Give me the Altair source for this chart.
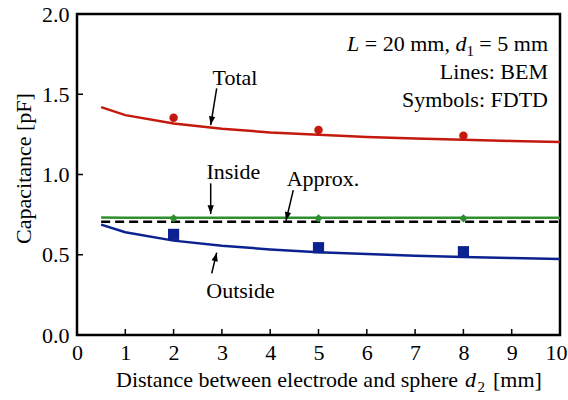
import math
import altair as alt
import pandas as pd

# ---------------- data ----------------
d_bem = [0.5, 1, 2, 3, 4, 5, 6, 7, 8, 9, 10]
total_bem = [1.420, 1.370, 1.318, 1.285, 1.262, 1.247, 1.234, 1.225, 1.217, 1.209, 1.203]
inside_bem = [0.732, 0.731, 0.730, 0.730, 0.730, 0.730, 0.730, 0.730, 0.730, 0.730, 0.730]
outside_bem = [0.688, 0.640, 0.588, 0.556, 0.533, 0.516, 0.504, 0.494, 0.486, 0.479, 0.473]

approx_x = [0.5, 10]
approx_y = [0.705, 0.705]

d_fdtd = [2, 5, 8]
total_fdtd = [1.354, 1.277, 1.242]
inside_fdtd = [0.727, 0.727, 0.727]
outside_fdtd = [0.627, 0.544, 0.519]

x_ticks = [0, 1, 2, 3, 4, 5, 6, 7, 8, 9, 10]
y_ticks = [0.0, 0.5, 1.0, 1.5, 2.0]

label_text = ["Total", "Inside", "Approx.", "Outside"]
label_x = [3.27, 3.236, 5.093, 3.385]
label_y = [1.558, 0.970, 0.928, 0.229]

arrow_x = [2.892, 2.768, 4.478, 2.789]
arrow_y = [1.537, 0.945, 0.903, 0.384]
arrow_x2 = [2.768, 2.768, 4.327, 2.892]
arrow_y2 = [1.308, 0.754, 0.712, 0.513]

# ---------------- style ----------------
W, H = 483, 321
FONT = "Liberation Serif"
FS = 22
RED = "#c41a0e"
GREEN = "#2f8f2f"
BLUE = "#0c2290"

xs = alt.Scale(domain=[0, 10], nice=False, zero=False)
ys = alt.Scale(domain=[0, 2], nice=False, zero=False)

bem = pd.DataFrame({"d": d_bem, "total": total_bem, "inside": inside_bem, "outside": outside_bem})
fdtd = pd.DataFrame({"d": d_fdtd, "total": total_fdtd, "inside": inside_fdtd, "outside": outside_fdtd})
approx = pd.DataFrame({"d": approx_x, "c": approx_y})

x_axis = alt.Axis(values=x_ticks, title=None, ticks=False, domain=False, grid=False,
                  labelFont=FONT, labelFontSize=FS, labelColor="black", labelPadding=7,
                  labelAngle=0, labelFlush=False, labelOverlap=False,
                  labelOffset={"condition": {"test": "datum.value == 10", "value": -4}, "value": 0})
y_axis = alt.Axis(values=y_ticks, format=".1f", title=None, ticks=False, domain=False, grid=False,
                  labelFont=FONT, labelFontSize=FS, labelColor="black", labelPadding=8,
                  labelFlush=False, labelOverlap=False)


def X(field):
    return alt.X(field, scale=xs, axis=x_axis)


def Y(field):
    return alt.Y(field, scale=ys, axis=y_axis)


def line(col, color, dash=None):
    kw = dict(color=color, strokeWidth=2.5)
    if dash:
        kw["strokeDash"] = dash
    return alt.Chart(bem).mark_line(**kw).encode(x=X("d:Q"), y=Y(f"{col}:Q"))


total_line = line("total", RED)
inside_line = line("inside", GREEN)
outside_line = line("outside", BLUE)
approx_line = alt.Chart(approx).mark_line(color="black", strokeWidth=2.5, strokeDash=[9, 5]).encode(
    x=X("d:Q"), y=Y("c:Q"))


def pts(col, shape, color, size):
    return alt.Chart(fdtd).mark_point(shape=shape, filled=True, color=color, size=size, opacity=1).encode(
        x=X("d:Q"), y=Y(f"{col}:Q"))


total_pts = pts("total", "circle", RED, 72)
inside_pts = pts("inside", "diamond", GREEN, 70)
outside_pts = pts("outside", "square", BLUE, 125)

# inward ticks
xt = pd.DataFrame({"v": x_ticks[1:-1]})
yt = pd.DataFrame({"v": y_ticks[1:-1]})
x_tick_marks = alt.Chart(xt).mark_rule(color="black", strokeWidth=1.5).encode(
    x=X("v:Q"), y=alt.value(H), y2=alt.value(H - 6))
y_tick_marks = alt.Chart(yt).mark_rule(color="black", strokeWidth=1.5).encode(
    y=Y("v:Q"), x=alt.value(0), x2=alt.value(6))

# annotation labels
lab = pd.DataFrame({"t": label_text, "x": label_x, "y": label_y})
labels = alt.Chart(lab).mark_text(font=FONT, fontSize=FS, color="black", align="center",
                                  baseline="alphabetic").encode(
    x=X("x:Q"), y=Y("y:Q"), text="t:N")

# arrows
ang = []
for a, b, c, d in zip(arrow_x, arrow_y, arrow_x2, arrow_y2):
    dx = (c - a) * W / 10.0
    dy = -(d - b) * H / 2.0
    ang.append(math.degrees(math.atan2(dx, -dy)) % 360)
arr = pd.DataFrame({"x": arrow_x, "y": arrow_y, "x2": arrow_x2, "y2": arrow_y2, "a": ang})
arrow_lines = alt.Chart(arr).mark_rule(color="black", strokeWidth=1.5).encode(
    x=X("x:Q"), y=Y("y:Q"), x2="x2:Q", y2="y2:Q")
arrow_heads = alt.Chart(arr).mark_point(shape="M0,0L-0.36,1L0.36,1Z", filled=True, color="black",
                                        size=300, opacity=1).encode(
    x=X("x2:Q"), y=Y("y2:Q"), angle=alt.Angle("a:Q", scale=None))


# free text pieces (pixel positions relative to plot area)
def txt(s, x, y, size=FS, style="normal", align="left", angle=None):
    kw = dict(text=s, font=FONT, fontSize=size, fontStyle=style, color="black",
              align=align, baseline="alphabetic")
    if angle is not None:
        kw["angle"] = angle
    return alt.Chart(pd.DataFrame({"k": [0]})).mark_text(**kw).encode(
        x=alt.value(x), y=alt.value(y))


texts = [
    # top-right block
    txt("= 5 mm", 471, 37, align="right"),
    txt("1", 396.9, 42, size=15, align="right"),
    txt("d", 389.4, 37, style="italic", align="right"),
    txt("= 20 mm,", 372.9, 37, align="right"),
    txt("L", 282.3, 37, style="italic", align="right"),
    txt("Lines: BEM", 471, 64.5, align="right"),
    txt("Symbols: FDTD", 471, 92.5, align="right"),
    # x-axis title
    txt("Distance between electrode and sphere", 39, 373),
    txt("d", 388, 373, style="italic"),
    txt("2", 400.5, 378, size=15),
    txt("[mm]", 416, 373),
    # y-axis title
    txt("Capacitance [pF]", -46, 154.5, align="center", angle=270),
]

chart = alt.layer(
    total_line, inside_line, approx_line, outside_line,
    total_pts, inside_pts, outside_pts,
    x_tick_marks, y_tick_marks,
    arrow_lines, arrow_heads, labels,
    *texts,
).properties(
    width=W, height=H,
    padding={"left": 77, "top": 14, "right": 8, "bottom": 65},
    autosize=alt.AutoSizeParams(type="none"),
    background="white",
).configure_view(stroke="black", strokeWidth=2.5)

chart.save("out.html", embed_options={"renderer": "svg", "actions": False})
